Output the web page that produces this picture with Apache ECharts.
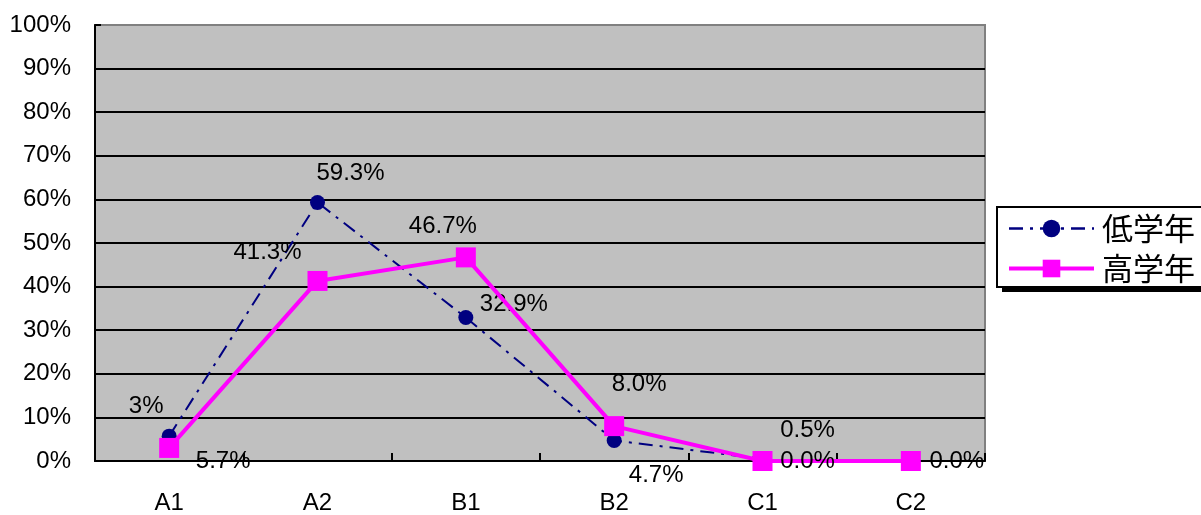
<!DOCTYPE html>
<html>
<head>
<meta charset="utf-8">
<script src="https://cdn.jsdelivr.net/npm/echarts@6/dist/echarts.min.js"></script>
<style>html,body{margin:0;padding:0;background:#fff;}#c{width:1201px;height:515px;}</style>
</head>
<body>
<div id="c"></div>
<script>
const categories = ['A1', 'A2', 'B1', 'B2', 'C1', 'C2'];
const seriesNames = ['低学年', '高学年'];
const lowGrade = [5.7, 59.3, 32.9, 4.7, 0.5, null];
const highGrade = [3, 41.3, 46.7, 8.0, 0.0, 0.0];
const lowLabels = ['5.7%', '59.3%', '32.9%', '4.7%', '0.5%', ''];
const highLabels = ['3%', '41.3%', '46.7%', '8.0%', '0.0%', '0.0%'];
const yTicks = [0, 10, 20, 30, 40, 50, 60, 70, 80, 90, 100];

// label placement (style, not data)
const lowOffsets = [[54, 25], [33, -29], [48, -13], [42, 35], [45, -28], [0, 0]];
const highOffsets = [[-23, -42], [-50, -29], [-23, -31], [25, -42], [45, 0], [46, 0]];

const FONT = '"Liberation Sans", Arial, sans-serif';
const FS = 24;

function buildData(vals, labels, offs) {
  return vals.map((v, i) => ({
    value: v,
    label: { formatter: labels[i], offset: offs[i] }
  }));
}

const chart = echarts.init(document.getElementById('c'), null, { renderer: 'canvas' });
chart.setOption({
  animation: false,
  backgroundColor: '#ffffff',
  grid: {
    left: 95, right: 216, top: 25, bottom: 53,
    show: true, backgroundColor: '#C0C0C0', borderColor: '#808080', borderWidth: 2
  },
  graphic: [
    { type: 'rect', z: 5, shape: { x: 1002, y: 212, width: 230, height: 80 }, style: { fill: '#000' } },
    { type: 'rect', z: 6, shape: { x: 997, y: 207, width: 230, height: 80 }, style: { fill: '#fff', stroke: '#000', lineWidth: 2 } }
  ],
  legend: {
    orient: 'vertical',
    left: 1007, top: 213,
    padding: 0,
    z: 10,
    itemWidth: 85, itemHeight: 22,
    itemGap: 9,
    textStyle: { fontFamily: 'Noto Sans CJK JP', fontSize: 31, color: '#000', lineHeight: 30, padding: [0, 0, 0, 3] },
    data: [
      { name: seriesNames[0], lineStyle: { width: 2.5, type: [14, 7, 3, 7], color: '#000080' } },
      { name: seriesNames[1], lineStyle: { width: 4, color: '#FF00FF' } }
    ]
  },
  xAxis: {
    type: 'category',
    data: categories,
    boundaryGap: true,
    axisLine: { lineStyle: { color: '#000', width: 2 } },
    axisTick: { show: true, inside: true, length: 8, lineStyle: { color: '#000', width: 2 } },
    axisLabel: { margin: 30, fontFamily: FONT, fontSize: FS, color: '#000' },
    splitLine: { show: false }
  },
  yAxis: {
    type: 'value',
    min: 0, max: 100, interval: 10,
    axisLine: { show: true, lineStyle: { color: '#000', width: 2 } },
    axisTick: { show: true, inside: true, length: 6, lineStyle: { color: '#000', width: 2 } },
    axisLabel: {
      margin: 24, fontFamily: FONT, fontSize: FS, color: '#000',
      formatter: v => (yTicks.indexOf(v) >= 0 ? v + '%' : '')
    },
    splitLine: { show: true, showMaxLine: false, lineStyle: { color: '#000', width: 2 } }
  },
  series: [
    {
      name: seriesNames[0],
      type: 'line',
      data: buildData(lowGrade, lowLabels, lowOffsets),
      connectNulls: false,
      symbol: 'circle', symbolSize: 15,
      itemStyle: { color: '#000080' },
      lineStyle: { color: '#000080', width: 2, type: [14, 7, 3, 7] },
      label: { show: true, position: 'inside', fontFamily: FONT, fontSize: FS, color: '#000' },
      z: 2
    },
    {
      name: seriesNames[1],
      type: 'line',
      data: buildData(highGrade, highLabels, highOffsets),
      symbol: 'rect', symbolSize: 20,
      itemStyle: { color: '#FF00FF' },
      lineStyle: { color: '#FF00FF', width: 4 },
      label: { show: true, position: 'inside', fontFamily: FONT, fontSize: FS, color: '#000' },
      z: 3
    }
  ]
});
</script>
</body>
</html>
